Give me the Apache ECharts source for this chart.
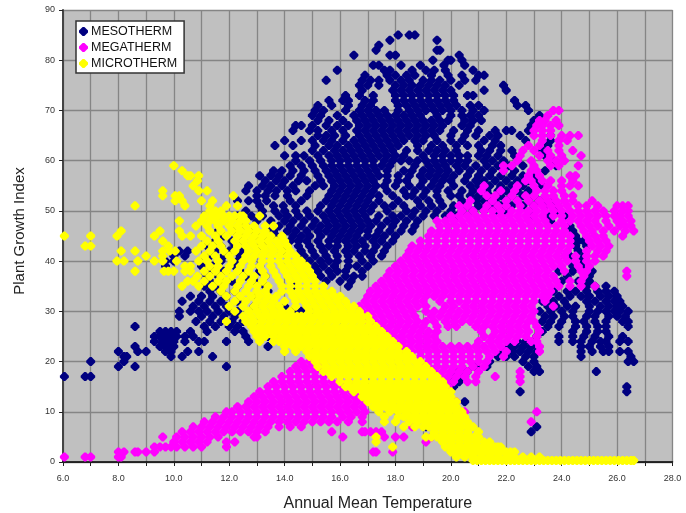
<!DOCTYPE html>
<html><head><meta charset="utf-8"><style>html,body{margin:0;background:#fff}#c{width:686px;height:513px}</style>
<script src="https://cdn.jsdelivr.net/npm/echarts@6/dist/echarts.min.js"></script></head><body><div id="c"></div>
<script>
const seriesNames=["MESOTHERM","MEGATHERM","MICROTHERM"];
const xTicks=[6,8,10,12,14,16,18,20,22,24,26,28];
// each row: [Plant Growth Index, [Annual Mean Temperature readings...]]
const mesoRows=[
[85,[18.1,18.5,18.7]],[84,[17.8,19.5]],[83,[17.4]],[82,[17.3,19.5,19.6]],[81,[16.5,17.8,18,20.3]],[80,[19.35,19.9,20,20.4]],
[79,[17.2,17.4,18.2,18.9,19.75,20.5]],[78,[15.9,17.6,17.8,18.6,19.1,19.4,19.8,20.8]],[77,[16.9,17.7,18,18.4,18.7,19.3,19.9,20.4,21,21.2]],
[76,[15.5,16.8,17.1,17.4,17.8,18.2,18.5,19,19.3,19.6,20,20.5,20.9]],[75,[16.7,17,17.4,18,18.3,18.6,18.9,19.2,19.5,19.8,20.3,21.9]],
[74,[16.8,17.9,18.2,18.5,18.8,19.1,19.4,19.7,20,21.2,22]],[73,[16.2,16.7,17.2,18,18.3,18.6,18.9,19.2,19.5,19.8,20.1,20.6,20.8]],
[72,[15.6,16.1,16.3,16.9,17.2,18,18.3,18.6,18.9,19.2,19.5,19.8,20.1,22.3]],[71,[15.2,15.7,16.3,16.8,17.1,18.1,18.4,18.7,19,19.3,19.6,19.9,20.2,20.7,21,22.4,22.7]],
[70,[15.1,15.4,16.2,16.7,17,17.3,17.6,18.1,18.5,18.8,19.1,19.4,19.7,20,20.4,20.8,21.2,22.8]],
[69,[15,15.3,15.9,16.5,16.8,17.1,17.4,17.7,18,18.3,18.6,18.9,19.5,20,20.4,20.7,21,23.2]],
[68,[15.2,15.6,16.1,16.6,16.9,17.2,17.5,17.8,18.1,18.4,18.7,19,19.3,19.6,19.9,20.5,20.8,21.1,23]],
[67,[14.4,14.6,15,15.5,15.9,16.3,16.7,17,17.3,17.6,17.9,18.2,18.5,18.8,19.1,19.4,19.7,20.4,20.7,22.9]],
[66,[14.3,14.9,15.2,15.7,16.1,16.6,16.9,17.2,17.5,17.8,18.1,18.4,18.7,19,19.3,19.6,20.1,20.6,21,21.6,22,22.2,22.8]],
[65,[15.2,15.5,15.8,16.2,16.7,17,17.3,17.6,17.9,18.2,18.5,18.8,19.1,19.4,20,20.5,20.9,21.4,21.7,22.5,23.6]],
[64,[14,14.6,15,15.4,15.7,16.1,16.5,16.8,17.1,17.4,17.7,18,18.3,18.7,19,19.5,20,20.4,21.2,21.6,22.7,23.6]],
[63,[13.65,14.3,15.1,15.6,15.9,16.3,16.6,16.9,17.2,17.5,17.8,18.1,18.8,19.3,19.7,20.2,20.6,21,21.5,21.8,23.5]],
[62,[15,15.4,15.8,16.1,16.4,16.7,17,17.3,17.6,17.9,18.4,18.8,19.2,19.5,19.8,20.2,21.1,21.4,21.8,22.2,23.3]],
[61,[14,14.4,14.7,15.2,15.6,15.9,16.2,16.5,16.8,17.1,17.4,17.7,18,18.3,19,19.4,19.7,20,20.3,20.6,21,21.3,21.7,22.3,23.4]],
[60,[14.4,14.9,15.3,15.7,16,16.3,16.6,16.9,17.2,17.6,17.9,18.2,18.5,18.8,19.1,19.4,19.7,20,20.3,20.6,21.2,21.5,21.9,22.4,23.7]],
[59,[14.2,14.6,15,15.4,15.7,16,16.3,16.6,16.9,17.2,17.5,17.8,18.7,19.2,19.5,19.8,20.2,20.5,20.9,21.3,21.7,22.1,22.6,23.8]],
[58,[13.6,13.9,14.3,14.7,15.1,15.5,15.8,16.1,16.4,16.7,17,17.3,17.7,18.3,18.6,19,19.3,19.6,19.9,20.3,20.7,21.1,21.5,21.9,22.3,23.4]],
[57,[13.1,13.5,13.8,14.2,14.6,15.2,15.6,15.9,16.2,16.5,16.8,17.1,17.4,17.7,18.1,18.5,18.9,19.2,19.5,19.8,20.1,20.6,21,21.4,21.8,22.2,22.6,23]],
[56,[13.3,13.7,14,14.5,14.8,15.3,15.7,16,16.3,16.6,16.9,17.2,17.7,18.1,18.4,19,19.4,19.7,20,20.5,20.9,21.2,21.6,22,22.4,22.8,23.2]],
[55,[12.7,13.2,13.5,13.9,14.3,15.1,15.4,15.8,16.1,16.4,16.7,17,17.3,17.6,18,18.5,18.9,19.3,19.6,20.1,20.7,21,21.4,21.8,22.2,22.6,23.3]],
[54,[12.6,13,13.4,13.7,14.1,14.4,14.9,15.7,16,16.3,16.6,16.9,17.2,17.7,18.3,18.7,19.1,19.5,19.9,20.4,20.8,21.3,21.7,22,22.4,22.8]],
[53,[13,13.3,13.65,14.1,14.8,15.6,15.9,16.2,16.5,16.8,17.1,17.4,17.9,18.4,18.6,19,19.5,20,20.3,20.7,21,21.4,21.8,22.2,22.6,23]],
[52,[12.3,12.7,13,13.35,14.2,14.6,15.5,15.8,16.1,16.4,16.7,17,17.4,18.1,18.8,19.2,19.6,20.4,20.9,21.2,21.6,22,22.4,22.8,23.2,23.7]],
[51,[13.1,13.6,13.95,14.4,15.3,15.7,16,16.3,16.6,16.9,17.2,17.6,17.9,18.3,18.9,19.3,19.7,20.1,20.6,21,21.4,21.8,22.2,22.6,23,23.4]],
[50,[12.6,13.2,13.65,14,14.4,14.8,15.2,15.6,15.9,16.2,16.5,16.8,17.1,17.7,18.4,18.7,19.1,19.5,20,20.4,20.8,21.2,21.6,22,23.8]],
[49,[12.3,12.8,13.2,13.8,14.1,14.5,14.9,15.4,15.7,16,16.3,16.6,16.9,17.4,17.9,18.2,18.6,19,19.4,19.8,20.2,22.9,23.5,24.1]],
[48,[12.4,13,13.5,14,14.3,14.7,15.1,15.5,15.8,16.1,16.4,16.7,17,17.3,17.7,18,18.4,18.8,23.6]],
[47,[12.6,13.4,13.8,14.2,14.6,15,15.3,15.6,15.9,16.2,16.5,16.8,17.1,17.5,17.9,18.3,18.7,24.3]],
[46,[11.6,12.2,12.9,13.6,14.1,14.4,14.8,15.2,15.5,15.8,16.1,16.4,16.7,17,17.4,17.8,18.2,18.6,24.4]],
[45,[11.8,12.4,13,13.7,14.3,14.6,14.9,15.3,15.7,16,16.3,16.6,17,17.3,17.6,18,24.5]],
[44,[11.5,12.1,12.5,13.3,14.2,14.5,14.8,15.2,15.6,15.9,16.2,16.5,16.8,17.2,17.5,17.9,24.6,24.8]],
[43,[11.2,11.7,12.2,13.1,14.5,14.9,15.3,15.6,15.9,16.3,16.6,16.9,17.3,17.7,24.5,24.9]],
[42,[10.2,10.5,11.5,12,12.5,13.9,14.6,15,15.4,15.8,16.2,16.5,16.9,17.2,17.6,24.6]],
[41,[10,10.4,11.3,11.8,12.4,14.7,15.1,15.5,15.9,16.3,16.7,17.1,17.5,24.3,24.8]],
[40,[9.7,10,11.1,11.7,12.3,14.9,15.3,15.6,15.9,16.3,16.8,17.2,24.7]],
[39,[9.7,11,11.4,12.2,13.1,15.1,15.4,15.8,16.3,16.6,17,24.4,24.8]],
[38,[11.3,11.8,12.4,13.1,15.2,15.6,15.9,16.2,16.8,23.9,24.4,25.1]],
[37,[11.2,11.6,12.6,13.3,15.3,15.7,16.2,16.5,16.8,24.2,25]],
[36,[11.3,11.7,12.1,12.9,15.5,16,16.4,24,24.6,25]],
[35,[11.1,11.5,12.3,13.3,14.3,16.3,24.9,25.2,25.6]],
[34,[11.3,11.7,12.2,13.4,23.7,24.2,24.5,24.9,25.3,25.6,25.9]],
[33,[10.6,11,11.4,11.9,13,23.9,24.3,24.7,25,25.4,25.7,26]],
[32,[10.3,10.9,11.3,11.7,12.3,23.3,23.7,24.1,24.9,25.2,25.6,25.9,26.1]],
[31,[10.7,11.1,11.5,11.9,12.9,14,23.5,23.8,24.2,24.5,25,25.4,25.7,26,26.2]],
[30,[10.2,10.6,10.9,11.2,11.6,12,12.3,14.3,14.6,23.2,23.6,24,24.4,25,25.3,25.6,25.9,26.1,26.4]],
[29,[10.2,11,11.4,11.8,12.2,23.4,23.7,24.1,24.4,24.9,25.2,25.7,26,26.3]],
[28,[10.8,11.3,11.7,12.1,12.5,23.3,23.6,24,24.5,24.8,25.2,25.6,26.2,26.4]],
[27,[8.6,11.1,11.5,12,12.3,23.5,23.9,24.5,24.9,25.3,25.6,26.4]],
[26,[9.5,9.7,9.9,10.1,10.6,11.2,12.2,12.5,23.3,24.4,24.9,25.3,25.6]],
[25,[9.3,9.5,9.7,9.9,10.1,10.4,10.7,12.6,13.4,23.1,23.9,24.4,24.8,25.2,25.7,26.2]],
[24,[9.3,9.6,9.8,10,10.4,10.9,11.1,11.9,12.7,22.4,22.7,23,23.9,24.4,24.7,25.1,25.4,25.6,26.1,26.4]],
[23,[8.6,9.5,9.7,9.8,10,13.4,22.1,22.3,22.6,22.9,24.7,25,25.4,25.7]],
[22,[8,8.7,9,9.7,9.9,10.5,10.9,21.9,22.2,22.5,22.8,23.1,24.7,25.1,25.5,25.7,26.1,26.4]],
[21,[8.2,8.3,9.9,10.3,11.4,21.7,22,22.3,22.7,23,24.7,26.5]],
[20,[7,8.2,21.4,22.6,23,26.4,26.6]],
[19,[8,8.6,11.9,20.9,21.3,22.8,23.1]],
[18,[20.2,20.6,23,23.2,25.25]],
[17,[6.05,6.8,7,20.2,20.5]],
[16,[20.1,20.3]],[15,[20.1,26.35]],[14,[22.5,26.35]],[12,[20.5]],[7,[19.1,23.1]],[6,[22.9]]
];
const megaRows=[
[70,[23.7,23.9]],[69,[23.5]],[68,[23.2,23.4,23.8]],[67,[23.1,23.3,23.6,23.9]],[66,[23,23.3,23.6]],[65,[23,23.3,23.6,24,24.3,24.6]],
[64,[23.3,23.9,24.2]],[63,[22.8,23.2,23.9]],[62,[22.6,23,23.5,23.9,24.4]],[61,[22.5,23.2,23.6,24,24.7]],[60,[22.4,22.9,23.5,23.8,24.1]],
[59,[21.9,22.2,23,23.6,23.9,24.6]],[58,[21.9,22.9,23.1]],[57,[22.8,23.2,24.3,24.5]],[56,[22.7,22.9,23.3,23.6,24,24.4]],
[55,[21.2,22.4,23,23.5,24,24.3,24.6]],[54,[21.1,21.8,22.3,23.1,23.4,23.7,24]],[53,[21.3,21.6,22.2,22.7,23,23.4,23.7,24.1,24.4]],
[52,[20.7,21.5,22,22.4,22.8,23.2,23.5,23.8,24.1,24.4,25.1]],[51,[20.3,20.6,21.3,21.7,22,22.5,23,23.3,23.6,23.9,24.2,24.6,24.9,25.3,26,26.2,26.4]],
[50,[20.4,20.8,21.2,21.5,21.8,22.2,22.5,22.8,23.1,23.4,23.7,24,24.3,24.6,24.9,25.2,25.5,25.9,26.2,26.4]],
[49,[20,20.3,20.6,20.9,21.2,21.5,21.8,22.1,22.4,22.7,23,23.3,23.7,24,24.4,24.7,25,25.3,25.6,25.9,26.1,26.4]],
[48,[19.5,19.8,20.1,20.4,20.7,21,21.3,21.6,21.9,22.2,22.5,22.8,23.1,23.4,24,24.3,24.6,24.9,25.2,25.6,26,26.2,26.5]],
[47,[19.6,19.9,20.2,20.5,20.8,21.1,21.4,21.7,22,22.3,22.6,22.9,23.2,23.5,23.8,24.1,24.7,25,25.3,25.7,26.1,26.3,26.5]],
[46,[19.3,19.6,19.9,20.2,20.5,20.8,21.1,21.4,21.7,22,22.3,22.6,22.9,23.2,23.5,23.8,24.1,24.8,25.1,25.5,25.9,26.3,26.6]],
[45,[19.2,19.5,19.8,20.1,20.4,20.7,21,21.3,21.6,21.9,22.2,22.5,22.8,23.1,23.4,23.7,24,24.3,24.9,25.2,25.5,26.2]],
[44,[18.9,19.2,19.5,19.8,20.1,20.4,20.7,21,21.3,21.6,21.9,22.2,22.5,22.8,23.1,23.4,23.7,24,24.3,25,25.3,25.6]],
[43,[18.6,18.9,19.2,19.5,19.8,20.1,20.4,20.7,21,21.3,21.6,21.9,22.2,22.5,22.8,23.1,23.4,23.7,24,24.3,25.1,25.4,25.7]],
[42,[18.5,18.8,19.1,19.4,19.7,20,20.3,20.6,20.9,21.2,21.5,21.8,22.1,22.4,22.7,23,23.3,23.6,23.9,24.2,24.9,25.3,25.6]],
[41,[18.4,18.7,19,19.3,19.6,19.9,20.2,20.5,20.8,21.1,21.4,21.7,22,22.3,22.6,22.9,23.2,23.5,23.8,24.1,24.5,24.9,25.2,25.5]],
[40,[18.2,18.5,18.8,19.1,19.4,19.7,20,20.3,20.6,20.9,21.2,21.5,21.8,22.1,22.4,22.7,23,23.3,23.6,23.9,24.2,24.5,24.9,25.2]],
[39,[18,18.3,18.6,18.9,19.2,19.5,19.8,20.1,20.4,20.7,21,21.3,21.6,21.9,22.2,22.5,22.8,23.1,23.4,23.7,24,24.6,25]],
[38,[17.8,18.1,18.4,18.7,19,19.3,19.6,19.9,20.2,20.5,20.8,21.1,21.4,21.7,22,22.3,22.6,22.9,23.2,23.5,24.1,24.7,24.9,26.35]],
[37,[17.7,18,18.3,18.6,18.9,19.2,19.5,19.8,20.1,20.4,20.7,21,21.3,21.6,21.9,22.2,22.5,22.8,23.1,23.4,23.7,24.8,26.35]],
[36,[17.5,17.8,18.1,18.4,18.7,19,19.3,19.6,19.9,20.2,20.5,20.8,21.1,21.4,21.7,22,22.3,22.6,22.9,23.2,23.5,23.8,24.3,24.7]],
[35,[17.3,17.6,17.9,18.2,18.5,18.8,19.1,19.4,19.7,20,20.3,20.6,20.9,21.2,21.5,21.8,22.1,22.4,22.7,23,23.3,23.6,23.9,24.3,24.7,25.2]],
[34,[17.1,17.4,17.7,18,18.3,18.6,18.9,19.2,19.5,19.8,20.1,20.4,20.7,21,21.3,21.6,21.9,22.2,22.5,22.8,23.1,23.4,23.6]],
[33,[17,17.3,17.6,17.9,18.2,18.5,18.8,19.1,19.4,19.7,20,20.3,20.6,20.9,21.2,21.5,21.8,22.1,22.4,22.7,23,23.3,23.5]],
[32,[16.9,17.2,17.5,17.8,18.1,18.4,18.7,19,19.6,20,20.3,20.6,20.9,21.2,21.5,21.8,22.1,22.4,22.7,23,23.4]],
[31,[16.7,17,17.3,17.6,17.9,18.2,18.5,18.8,19.1,19.8,20.1,20.5,20.8,21.1,21.4,21.7,22,22.3,22.6,22.9,23.7]],
[30,[16.8,17.1,17.4,17.7,18,18.3,18.6,19.1,19.4,19.7,20,20.3,20.6,20.9,21.2,21.5,21.8,22.1,22.4,22.7,23]],
[29,[16.9,17.2,17.5,17.8,18.1,18.4,18.7,19.3,19.6,19.9,20.2,20.5,20.8,21.1,21.4,21.7,22,22.3,22.6,22.9]],
[28,[17,17.3,17.6,17.9,18.2,18.5,18.8,19.1,19.4,19.8,20.1,20.4,20.7,21,21.3,21.6,21.9,22.2,22.5,22.8,23]],
[27,[17.2,17.5,17.8,18.1,18.4,18.7,19,19.5,19.9,20.2,20.9,21.2,21.5,21.8,22.1,22.4,22.7,23.1]],
[26,[17.4,17.7,18,18.3,18.6,18.9,19.2,19.5,21.1,21.6,21.9,22.2,22.5,22.8,23.2]],
[25,[17.6,17.9,18.2,18.5,18.8,19.1,19.4,21.2,21.5,21.8,22.1,22.4,22.7,23.1]],
[24,[18,18.3,18.6,18.9,19.2,19.5,21,21.4,21.7,22,22.3,22.9,23.1]],
[23,[18.2,18.5,18.8,19.1,19.4,19.7,20,20.3,20.6,20.9,21.2,21.5,21.8,23.2]],
[22,[18.3,18.6,18.9,19.2,19.5,19.8,20.1,20.4,20.7,21,21.3,21.6,22,23.2]],
[21,[18.6,18.9,19.2,19.5,19.8,20.1,20.4,20.7,21,21.4,21.9]],
[20,[14.6,14.9,18.9,19.2,19.5,19.8,20.1,20.4,20.7,21,21.3]],
[19,[14.4,14.7,15,15.3,19.2,19.5,19.8,20.1,20.4,20.8,21.2]],
[18,[14.2,14.5,14.8,15.1,15.4,15.7,19.4,19.7,20,20.3,20.6,21,22.5]],
[17,[13.9,14.2,14.5,14.8,15.1,15.4,15.7,16,19.6,19.9,20.2,20.5,20.9,21.6,22.5]],
[16,[13.6,13.9,14.2,14.5,14.8,15.1,15.4,15.7,16,16.3,19.8,20.1,20.6,20.9,22.5]],
[15,[13.4,13.7,14,14.3,14.6,14.9,15.2,15.5,15.8,16.1,16.4,19.9]],
[14,[13.1,13.4,13.7,14,14.3,14.6,14.9,15.2,15.5,15.8,16.1,16.4,16.7]],
[13,[12.9,13.2,13.5,13.8,14.1,14.4,14.7,15,15.3,15.6,15.9,16.2,16.5,16.8]],
[12,[12.7,13,13.3,13.6,13.9,14.2,14.5,14.8,15.1,15.4,15.7,16,16.3,16.6,16.9,20.2]],
[11,[12.3,12.6,12.9,13.2,13.5,13.8,14.1,14.4,14.7,15,15.3,15.6,15.9,16.2,16.5,16.8]],
[10,[11.9,12.1,12.4,12.7,13,13.3,13.6,13.9,14.2,14.5,14.8,15.1,15.4,15.7,16,16.3,16.6,16.9,20.5,23.1]],
[9,[11.5,11.8,12.1,12.4,12.7,13,13.3,13.6,13.9,14.2,14.5,14.8,15.1,15.4,15.7,16.1,16.4,16.8]],
[8,[11.1,11.4,11.7,12,12.3,12.6,12.9,13.2,13.5,13.8,14.1,14.4,14.7,15,15.3,15.6,15.9,16.3,16.8,22.9]],
[7,[10.7,11,11.3,11.6,11.9,12.2,12.5,12.8,13.1,13.4,13.8,14.2,14.6,18.6]],
[6,[10.3,10.6,10.9,11.2,11.5,11.8,12.1,12.4,12.7,13,13.3,15.7,16.8,16.9,17.1,17.3,17.5]],
[5,[9.6,10.1,10.4,10.7,11,11.3,11.6,12.9,13,16.1,17.6,18,18.3,19.3]],
[4,[10,10.3,10.6,10.9,11.2,11.9,12.2,19.1]],
[3,[9.3,9.5,9.7,9.9,10.1,10.4,10.7,11,11.9]],
[2,[8,8.2,8.6,8.7,9,9.3,17.2,17.3,17.9]],
[1,[6.05,6.8,7,8,8.1]]
];
const microRows=[
[59,[10]],[58,[10.3]],[57,[10.5,10.6,10.9]],[56,[10.85]],[55,[10.7]],[54,[9.6,10.9,11.2]],[53,[9.6,10.05,10.2,12.15]],
[52,[10.05,10.3,11,11.4]],[51,[8.6,10.4,11.3,11.9,12.3]],[50,[11.3,11.5,11.7]],
[49,[11.1,11.4,11.6,11.8,12,12.2,12.4,12.5,13.1]],[48,[10.2,11,11.3,11.5,11.8,12.1,12.4,12.6]],
[47,[10.8,11.2,11.6,12,12.3,12.6,12.9,13.3,13.6]],[46,[8.1,9.5,10.2,11.3,11.7,12.1,12.4,12.7,13,13.3]],
[45,[6.05,7,7.95,9.3,10.3,10.6,11,11.5,11.9,12.3,12.6,12.9,13.2,13.5,13.9]],[44,[9.6,11.2,11.6,12.2,12.5,12.8,13.1,13.4,13.7,14]],
[43,[6.8,7,9.8,11,11.4,11.7,12.3,12.6,12.9,13.2,13.5,13.8,14.1]],[42,[8.1,8.6,9.6,9.85,10.05,10.8,11.3,11.8,12.2,12.7,13,13.3,13.6,13.9,14.2]],
[41,[9,9.6,11.1,11.5,12,12.6,12.9,13.2,13.5,13.8,14.1,14.4]],[40,[7.95,8.2,8.7,9.3,9.6,10.1,10.9,11.2,11.6,12.1,12.5,12.8,13.2,13.5,13.8,14.1,14.4,14.6]],
[39,[10.4,10.6,11.3,11.6,12,12.4,12.8,13.1,13.5,13.9,14.2,14.5,14.8]],[38,[8.6,9.65,9.8,10,10.4,10.6,11.1,11.5,11.9,12.3,12.7,13.2,13.6,14,14.3,14.6,14.9]],
[37,[10.85,11.3,11.7,12.1,12.5,12.9,13.3,13.7,14.1,14.4,14.7,15]],[36,[10.5,10.7,11.1,11.6,11.9,12.4,12.8,13.2,13.8,14.2,14.5,14.8,15.1]],
[35,[10.3,10.9,11.4,11.8,12.3,12.7,13,13.4,13.9,14.2,14.5,14.8,15.1,15.4]],[34,[11.7,12.2,12.6,13,13.3,13.9,14.2,14.5,14.8,15.1,15.4,15.7]],
[33,[11.9,12.4,12.8,13.1,13.4,13.7,14.3,14.6,14.9,15.2,15.5,15.8,16]],[32,[12.2,12.6,13,13.3,13.6,14,14.4,14.7,15,15.3,15.6,15.9,16.2]],
[31,[12,12.5,12.9,13.2,13.5,13.8,14.4,14.8,15.1,15.4,15.7,16,16.3,16.5]],[30,[12.2,12.7,13,13.3,13.6,13.9,14.2,14.9,15.2,15.5,15.8,16.1,16.4,16.7]],
[29,[12.5,12.8,13.1,13.4,13.7,14,14.3,14.6,14.9,15.3,15.6,15.9,16.2,16.5,16.8,17]],[28,[11.9,12.6,12.9,13.2,13.5,13.8,14.1,14.4,14.7,15,15.3,15.6,15.9,16.2,16.5,16.8,17.1]],
[27,[12.8,13.1,13.4,13.7,14,14.3,14.6,14.9,15.2,15.5,15.8,16.1,16.4,16.7,17,17.3]],[26,[12.9,13.2,13.5,13.8,14.1,14.4,14.7,15,15.3,15.6,15.9,16.2,16.5,16.8,17.1,17.4,17.5]],
[25,[13,13.3,13.6,13.9,14.2,14.5,14.8,15.1,15.4,15.7,16,16.3,16.6,16.9,17.2,17.5,17.7]],[24,[13.1,13.6,14,14.3,14.6,14.9,15.2,15.5,15.8,16.1,16.4,16.7,17,17.3,17.6,17.9]],
[23,[14,14.3,14.6,14.9,15.2,15.5,15.8,16.1,16.4,16.7,17,17.3,17.6,17.9,18.1]],[22,[14,14.4,14.8,15.1,15.4,15.7,16,16.3,16.6,16.9,17.2,17.5,17.8,18.1,18.4]],
[21,[14.9,15.2,15.5,15.8,16.1,16.4,16.7,17,17.3,17.6,17.9,18.2,18.5,18.6]],[20,[15.1,15.4,15.7,16,16.3,16.6,16.9,17.2,17.5,17.8,18.1,18.4,18.7,18.9]],
[19,[15.2,15.5,15.8,16.1,16.4,16.7,17,17.3,17.6,17.9,18.2,18.5,18.8,19.1]],[18,[15.4,15.7,16,16.3,16.6,16.9,17.2,17.5,17.8,18.1,18.4,18.7,19,19.3]],
[17,[15.7,16,16.3,16.6,16.9,17.2,17.5,17.8,18.1,18.4,18.7,19,19.3,19.5]],[16,[16,16.3,16.6,16.9,17.2,17.5,17.8,18.1,18.4,18.7,19,19.3,19.6,19.7]],
[15,[16.2,16.5,16.8,17.1,17.4,17.7,18,18.3,18.6,18.9,19.2,19.5,19.8]],[14,[16.5,16.8,17.1,17.4,17.7,18,18.3,18.6,18.9,19.2,19.5,19.8,20]],
[13,[16.8,17.1,17.4,17.7,18,18.3,18.6,18.9,19.2,19.5,19.8,20]],[12,[17,17.3,17.6,17.9,18.2,18.5,18.8,19.1,19.4,19.7,20,20.2]],
[11,[17.2,17.5,17.8,18.1,18.4,18.7,19,19.3,19.6,19.9,20.2]],[10,[17.4,17.8,18.1,18.4,18.7,19,19.3,19.6,19.9,20.2,20.4]],
[9,[17.6,18.1,18.5,18.8,19.1,19.4,19.7,20,20.3,20.5]],[8,[17.6,18,18.5,18.8,19.1,19.4,19.7,20,20.3,20.6]],
[7,[18.3,18.7,19.2,19.5,19.8,20.1,20.4,20.8]],[6,[19.4,19.7,20,20.3,20.6,21]],
[5,[17.3,19.1,19.5,19.8,20.1,20.4,20.7,21]],[4,[17.3,19.7,20,20.3,20.6,20.9,21.2,21.4]],
[3,[17.9,19.8,20.1,20.4,20.7,21,21.3,21.6,21.8]],[2,[20,20.3,20.6,20.9,21.2,21.5,21.8,22,22.3]],
[1,[20.2,20.5,20.8,21.1,21.4,21.7,22,22.3,22.6,22.9,23.2]],
[0.3,[20.8,21.1,21.4,21.7,22,22.3,22.6,22.9,23.2,23.5,23.8,24.1,24.4,24.7,25,25.3,25.6,25.9,26.2,26.5,26.6]],
[29,[13.25,13.55,13.85,14.15,14.45,14.75,15.1,15.45,15.75,16.05,16.35,16.65]],
[26,[13.05,13.35,13.65,13.95,14.25,14.55,14.85,15.15,15.45,15.75,16.05,16.35,16.65,16.95,17.25]],
[24,[13.8,14.15,14.45,14.75,15.05,15.35,15.65,15.95,16.25,16.55,16.85,17.15,17.45,17.75]],
[21,[15.05,15.35,15.65,15.95,16.25,16.55,16.85,17.15,17.45,17.75,18.05,18.35]],
[18,[15.55,15.85,16.15,16.45,16.75,17.05,17.35,17.65,17.95,18.25,18.55,18.85,19.15]],
[15,[16.35,16.65,16.95,17.25,17.55,17.85,18.15,18.45,18.75,19.05,19.35,19.65]],
[13,[16.95,17.25,17.55,17.85,18.15,18.45,18.75,19.05,19.35,19.65,19.9]],
[11,[17.35,17.65,17.95,18.25,18.55,18.85,19.15,19.45,19.75,20.05]],
[9,[18.3,18.65,18.95,19.25,19.55,19.85,20.15,20.4]],
[7,[19,19.35,19.65,19.95,20.25,20.6]],
[5,[19.3,19.65,19.95,20.25,20.55,20.85]],
[3,[20,20.25,20.55,20.85,21.15,21.45,21.7]],
[2,[20.15,20.45,20.75,21.05,21.35,21.65,21.95,22.15]],
[0.3,[20.95,21.25,21.55,21.85,22.15,22.45,22.75,23.05,23.35,23.65,23.95,24.25,24.55,24.85,25.15,25.45,25.75,26.05,26.35]]
];
const points=rows=>rows.flatMap(([y,xs])=>xs.map(x=>[x,y]));
const colors=["#000080","#ff00ff","#ffff00"];
const markShape='path://M4 0L6 0L10 4L10 6L6 10L4 10L0 6L0 4Z';
const chart=echarts.init(document.getElementById('c'));
const font="Liberation Sans";
chart.setOption({
 animation:false,
 textStyle:{fontFamily:font},
 grid:{left:63,right:13.5,top:10,bottom:51,outerBoundsMode:'none',backgroundColor:'#c0c0c0',show:true,borderWidth:0},
 legend:{left:76,top:21,orient:'vertical',icon:markShape,itemWidth:9,itemHeight:9,itemGap:3,padding:[4,7,3,3],
  backgroundColor:'#fff',borderColor:'#333',borderWidth:1.5,textStyle:{fontSize:12.5,color:'#111',padding:[0,0,0,-2]},
  data:seriesNames},
 xAxis:{type:'value',min:6,max:28,interval:1,name:'Annual Mean Temperature',nameLocation:'middle',nameGap:34,
  nameTextStyle:{fontSize:16,color:'#222',padding:[0,0,0,20]},
  axisLine:{onZero:false,lineStyle:{color:'#000',width:1.5}},axisTick:{length:4,lineStyle:{color:'#222'}},
  axisLabel:{fontSize:9,color:'#333',margin:12,showMinLabel:true,showMaxLabel:true,
   formatter:v=>xTicks.includes(v)?v.toFixed(1):''},
  splitLine:{show:true,lineStyle:{color:'#858585',width:1.3}}},
 yAxis:{type:'value',min:0,max:90,interval:10,name:'Plant Growth Index',nameLocation:'middle',nameGap:36,
  nameTextStyle:{fontSize:15,color:'#222',padding:[0,0,0,10]},
  axisLine:{show:true,onZero:false,lineStyle:{color:'#444',width:2}},axisTick:{show:true,length:4,lineStyle:{color:'#222'}},
  axisLabel:{fontSize:9,color:'#333',margin:8},
  splitLine:{show:true,lineStyle:{color:'#858585',width:1.3}}},
 series:[mesoRows,megaRows,microRows].map((rows,i)=>({
  name:seriesNames[i],type:'scatter',data:points(rows),symbol:markShape,symbolSize:9,clip:false,
  itemStyle:{color:colors[i],opacity:1},large:false,emphasis:{disabled:true}}))
});
</script></body></html>
